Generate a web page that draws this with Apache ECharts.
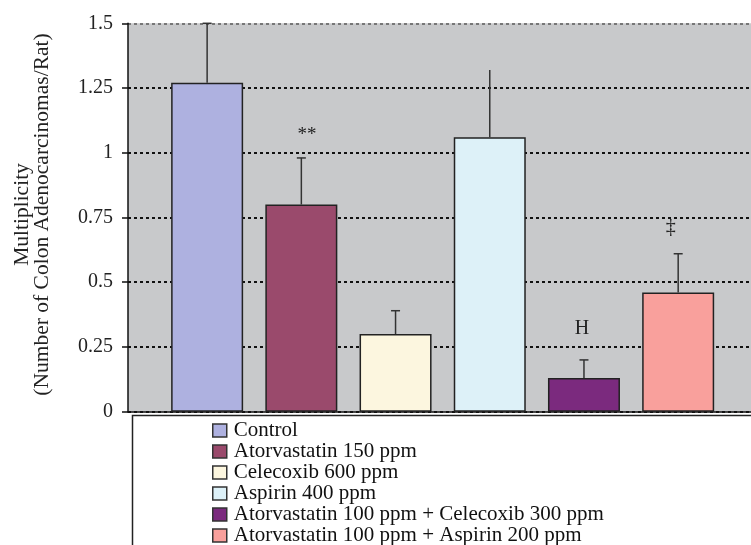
<!DOCTYPE html>
<html>
<head>
<meta charset="utf-8">
<script src="https://cdn.jsdelivr.net/npm/echarts@6/dist/echarts.min.js"></script>
<style>
  html, body { margin: 0; padding: 0; background: #fff; }
  #chart { width: 751px; height: 545px; }
</style>
</head>
<body>
<div id="chart"></div>
<script>
// Treatment groups, in plotting order
var groups = [
  'Control',
  'Atorvastatin 150 ppm',
  'Celecoxib 600 ppm',
  'Aspirin 400 ppm',
  'Atorvastatin 100 ppm + Celecoxib 300 ppm',
  'Atorvastatin 100 ppm + Aspirin 200 ppm'
];
// Mean multiplicity (adenocarcinomas per rat) and upper SE
var multiplicity = [1.27, 0.80, 0.30, 1.06, 0.13, 0.46];
var stdError = [0.23, 0.18, 0.09, 0.26, 0.07, 0.15];
// Significance marks: text, x position (group units), y value
var markText = ['**', 'H', '\u2021'];
var markX = [2.06, 4.98, 5.92];
var markY = [1.07, 0.322, 0.71];
// Y tick values
var yTicks = [0, 0.25, 0.5, 0.75, 1, 1.25, 1.5];

var colors = ['#aeb1e0', '#9a4a6c', '#fcf6df', '#ddf1f8', '#7b2a7e', '#f9a09c'];
var serif = '"Liberation Serif", "Times New Roman", serif';
var noCap = { 3: true };

var chart = echarts.init(document.getElementById('chart'));

var barSeries = groups.map(function (name, i) {
  return {
    name: name,
    type: 'bar',
    barWidth: 72,
    barGap: '-100%',
    z: 3,
    itemStyle: { color: colors[i], borderColor: '#222', borderWidth: 1.5 },
    data: [[i + 1, multiplicity[i]]]
  };
});

var errSeries = {
  type: 'custom',
  z: 4,
  silent: true,
  data: groups.map(function (g, i) { return [i + 1, multiplicity[i], stdError[i], i]; }),
  renderItem: function (params, api) {
    var x = api.value(0), v = api.value(1), e = api.value(2), idx = api.value(3);
    var p0 = api.coord([x, v]);
    var p1 = api.coord([x, v + e]);
    var style = { stroke: '#333', lineWidth: 1.5 };
    var children = [{
      type: 'line',
      shape: { x1: p0[0], y1: p0[1], x2: p1[0], y2: p1[1] },
      style: style
    }];
    if (!noCap[idx]) {
      children.push({
        type: 'line',
        shape: { x1: p1[0] - 4.5, y1: p1[1], x2: p1[0] + 4.5, y2: p1[1] },
        style: style
      });
    }
    return { type: 'group', children: children };
  }
};

var markSeries = {
  type: 'custom',
  z: 5,
  silent: true,
  data: markText.map(function (t, i) { return [markX[i], markY[i], i]; }),
  renderItem: function (params, api) {
    var p = api.coord([api.value(0), api.value(1)]);
    var t = markText[api.value(2)];
    return {
      type: 'text',
      x: p[0], y: p[1],
      style: {
        text: t,
        fill: '#222',
        font: (t === '**' ? '19px ' : '20px ') + serif,
        align: 'center',
        verticalAlign: 'middle'
      }
    };
  }
};

chart.setOption({
  animation: false,
  backgroundColor: '#fff',
  grid: {
    left: 128, top: 23.3, right: 0, bottom: 133.3,
    show: true, backgroundColor: '#c8c9cb', borderWidth: 0
  },
  xAxis: {
    type: 'value',
    min: 0.16, max: 6.773,
    axisLine: { show: true, onZero: false, lineStyle: { color: '#111', width: 1.5 } },
    axisTick: { show: false },
    axisLabel: { show: false },
    splitLine: { show: false }
  },
  yAxis: {
    type: 'value',
    min: yTicks[0], max: yTicks[yTicks.length - 1], interval: 0.25,
    name: 'Multiplicity\n(Number of Colon Adenocarcinomas/Rat)',
    nameLocation: 'middle',
    nameRotate: 90,
    nameGap: 76,
    nameTextStyle: { fontFamily: serif, fontSize: 21.5, color: '#222', lineHeight: 20, padding: [0, 0, 0, 6] },
    axisLine: { show: true, lineStyle: { color: '#111', width: 1.5 } },
    axisTick: { show: true, inside: false, length: 6, lineStyle: { color: '#111', width: 1.5 } },
    axisLabel: {
      margin: 15, fontFamily: serif, fontSize: 20, color: '#222',
      formatter: function (v) { return String(v); }
    },
    splitLine: {
      show: true,
      lineStyle: {
        color: ['#111', '#111', '#111', '#111', '#111', '#111', '#777'],
        width: 2, type: [3, 3]
      }
    }
  },
  legend: {
    orient: 'vertical',
    left: 212, top: 420, height: 200,
    padding: 0,
    itemWidth: 14, itemHeight: 13,
    itemGap: 0,
    icon: 'rect',
    itemStyle: { borderColor: '#333', borderWidth: 1.5 },
    textStyle: { fontFamily: serif, fontSize: 21, color: '#111', lineHeight: 21, padding: [0, 0, 0, 2] },
    data: groups,
    selectedMode: false
  },
  graphic: [{
    type: 'rect',
    z: 1,
    shape: { x: 132.5, y: 415.5, width: 700, height: 200 },
    style: { fill: '#fff', stroke: '#222', lineWidth: 1.5 }
  }],
  series: barSeries.concat([errSeries, markSeries])
});
</script>
</body>
</html>
